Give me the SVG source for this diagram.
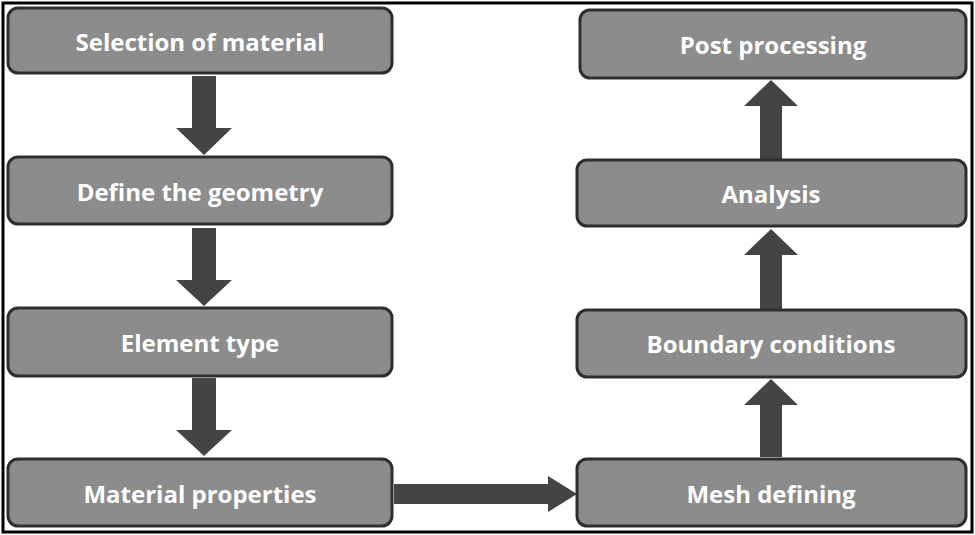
<svg xmlns="http://www.w3.org/2000/svg" width="975" height="535" viewBox="0 0 975 535">
<style>
.b{fill:#8c8c8c;stroke:#2e2e2e;stroke-width:3}
.t{fill:#fff;font-family:"Open Sans",sans-serif;font-weight:bold;font-size:24px;text-anchor:middle;dominant-baseline:central}
.a{fill:#444}
</style>
<rect width="975" height="535" fill="#fff"/>
<rect x="3" y="3" width="969" height="529" fill="none" stroke="#000" stroke-width="3"/>
<g id="connectors">
<polygon class="a" points="192,76 216,76 216,128 232,128 204,155 176,128 192,128"/>
<polygon class="a" points="192,228 216,228 216,280 232,280 204,306 176,280 192,280"/>
<polygon class="a" points="192,378 216,378 216,430 232,430 204,456 176,430 192,430"/>
<polygon class="a" points="394,484 548,484 548,476 577,494 548,512 548,504 394,504"/>
<polygon class="a" points="760,457 782,457 782,405 798,405 771,379 744,405 760,405"/>
<polygon class="a" points="760,309 782,309 782,255 798,255 771,229 744,255 760,255"/>
<polygon class="a" points="760,159 782,159 782,106 798,106 771,80 744,106 760,106"/>
</g>
<g id="n1"><rect class="b" x="8" y="8" width="384" height="65" rx="10"/><text class="t" x="200" y="41">Selection of material</text></g>
<g id="n2"><rect class="b" x="8" y="157" width="384" height="67" rx="10"/><text class="t" x="200" y="191">Define the geometry</text></g>
<g id="n3"><rect class="b" x="8" y="308" width="384" height="68" rx="10"/><text class="t" x="200" y="342">Element type</text></g>
<g id="n4"><rect class="b" x="8" y="459" width="384" height="67" rx="10"/><text class="t" x="200" y="493">Material properties</text></g>
<g id="n5"><rect class="b" x="577" y="459" width="389" height="67" rx="10"/><text class="t" x="771" y="493">Mesh defining</text></g>
<g id="n6"><rect class="b" x="577" y="310" width="389" height="67" rx="10"/><text class="t" x="771" y="343">Boundary conditions</text></g>
<g id="n7"><rect class="b" x="577" y="160" width="389" height="66" rx="10"/><text class="t" x="771" y="193">Analysis</text></g>
<g id="n8"><rect class="b" x="580" y="10" width="386" height="68" rx="10"/><text class="t" x="773" y="44">Post processing</text></g>
</svg>
